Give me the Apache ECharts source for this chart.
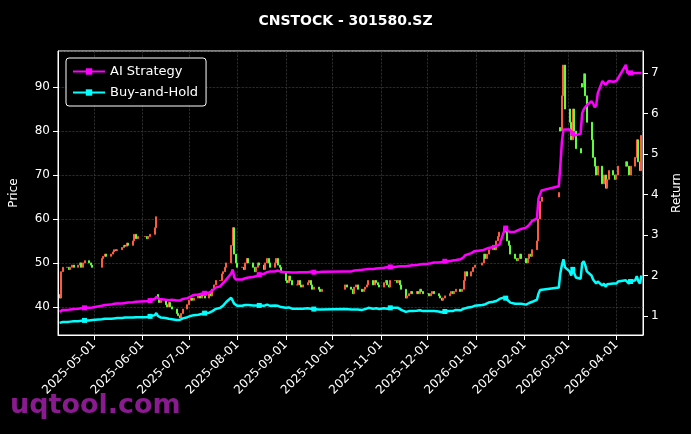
<!DOCTYPE html>
<html>
<head>
<meta charset="utf-8">
<script src="https://cdn.jsdelivr.net/npm/echarts@6/dist/echarts.min.js"></script>
<style>html,body{margin:0;padding:0;background:#000;}#chart{width:691px;height:434px;}</style>
</head>
<body>
<div id="chart"></div>
<script>
// one row per trading week (Mon..Fri), starting Monday 2025-04-07; null = no data
var firstMonday = '2025-04-07';
var closeWeeks = [
  [null,null,42,48,49],[49,48.5,49,49.5,49],[49.5,50,49,50,50.5],[50,49.5,49,null,null],
  [null,51,51.5,52,51.5],[52,52.5,53,52.8,53],[53.5,54,53.8,54.5,54],[55,56.5,55.5,56,null],
  [null,56,55.5,56,56.5],[58,60.5,42,41,41.5],[40.5,40,41,40,39.5],[38.5,38,37.5,38.5,39.5],
  [40.5,41.5,42,41.5,42],[42.5,42,43,42.5,42],[43,42.5,44,45,46],[46,47.5,48,49,50],
  [54,58,52,50,49],[49,48.5,50,51,50],[49,48,49,50,49.5],[48.5,50,51,50,49],
  [50,51,49.5,49,48],[46,45.5,47,46,45],[45,46,45,44.5,45],[45.5,46,45,44,44.5],
  [44,43.5,44,null,null],[null,null,null,null,null],[null,null,null,45,44.5],[44,43,44.5,45,44],
  [43.5,44,44.5,45,46],[45,46,45.5,45,44.5],[45.5,46,45,44.5,46],[46,45.5,46,45,44],
  [42,42.5,43,43.5,43],[43.5,43,44,43.5,43],[43,42.5,43,43.5,43],[42.5,42,41.5,42,42.5],
  [43,43.5,43,43.5,44],[43.5,44,46,48,47],[48,49,49.5,null,null],[50,52,51,52,53],
  [54,53,55,56,57],[58,57,55,54,52],[51,50.5,51,52,51],[50,51,52,51.5,53],
  [55,60,64,65,null],[null,null,null,null,null],[66,80,88,95,85],[82,78,85,80,76],
  [75,90,93,88,82],[78,74,72,70,72],[68,70,67,69,71],[70,69,70,72,null],
  [null,73,72,70,72],[74,78,73,71,79]
];
var aiWeeks = [
  [null,null,1.1,1.13,1.15],[1.15,1.16,1.16,1.17,1.17],[1.18,1.18,1.19,1.2,1.2],[1.2,1.2,1.21,null,null],
  [null,1.25,1.27,1.27,1.28],[1.28,1.29,1.3,1.3,1.31],[1.31,1.32,1.32,1.33,1.33],[1.34,1.35,1.35,1.36,null],
  [null,1.36,1.37,1.37,1.38],[1.42,1.47,1.44,1.42,1.41],[1.4,1.4,1.39,1.4,1.4],[1.38,1.37,1.38,1.4,1.42],
  [1.44,1.46,1.48,1.5,1.52],[1.53,1.54,1.55,1.55,1.56],[1.58,1.6,1.63,1.66,1.7],[1.73,1.78,1.82,1.86,1.9],
  [2.05,2.15,1.95,1.9,1.9],[1.9,1.91,1.93,1.94,1.95],[1.96,1.97,1.98,2.0,2.02],[2.04,2.06,2.08,2.09,2.1],
  [2.1,2.12,2.12,2.1,2.09],[2.08,2.07,2.08,2.08,2.07],[2.07,2.08,2.08,2.07,2.08],[2.08,2.09,2.09,2.08,2.08],
  [2.08,2.08,2.09,null,null],[null,null,null,null,null],[null,null,null,2.1,2.1],[2.1,2.11,2.12,2.12,2.13],
  [2.14,2.14,2.15,2.15,2.16],[2.16,2.17,2.17,2.18,2.18],[2.19,2.19,2.2,2.2,2.21],[2.21,2.22,2.22,2.23,2.23],
  [2.23,2.24,2.24,2.25,2.25],[2.26,2.26,2.27,2.28,2.28],[2.29,2.3,2.3,2.31,2.32],[2.32,2.33,2.33,2.34,2.35],
  [2.35,2.36,2.37,2.37,2.38],[2.4,2.42,2.45,2.5,2.52],[2.55,2.58,2.6,null,null],[2.62,2.64,2.65,2.66,2.68],
  [2.7,2.72,2.73,2.75,2.76],[3.1,3.17,3.1,3.07,3.07],[3.08,3.1,3.12,3.14,3.15],[3.18,3.2,3.25,3.3,3.35],
  [3.4,3.9,4.0,4.1,null],[null,null,null,null,null],[4.2,4.7,5.3,5.6,5.62],[5.6,5.55,5.5,5.45,5.45],
  [5.5,6.0,6.1,6.15,6.2],[6.3,6.25,6.15,6.2,6.5],[6.8,6.75,6.7,6.72,6.8],[6.78,6.78,6.8,6.8,null],
  [null,7.2,7.0,7.0,7.0],[7.0,7.0,7.0,7.0,7.0]
];
var bhWeeks = [
  [null,null,0.83,0.84,0.85],[0.85,0.86,0.86,0.86,0.87],[0.87,0.88,0.88,0.88,0.89],[0.89,0.9,0.9,null,null],
  [null,0.92,0.93,0.93,0.93],[0.93,0.94,0.94,0.94,0.95],[0.95,0.95,0.96,0.96,0.96],[0.96,0.97,0.97,0.97,null],
  [null,0.97,0.98,0.98,0.99],[1.02,1.07,1.0,0.97,0.96],[0.95,0.94,0.93,0.93,0.92],[0.9,0.89,0.9,0.92,0.94],
  [0.97,0.99,1.0,1.01,1.02],[1.03,1.04,1.05,1.06,1.07],[1.08,1.1,1.12,1.14,1.17],[1.2,1.23,1.26,1.3,1.35],
  [1.45,1.47,1.3,1.26,1.25],[1.25,1.25,1.27,1.28,1.27],[1.26,1.25,1.26,1.27,1.26],[1.25,1.27,1.28,1.27,1.25],
  [1.26,1.27,1.25,1.24,1.22],[1.2,1.19,1.21,1.2,1.18],[1.18,1.2,1.18,1.17,1.18],[1.19,1.2,1.18,1.16,1.17],
  [1.16,1.15,1.16,null,null],[null,null,null,null,null],[null,null,null,1.17,1.16],[1.16,1.14,1.16,1.17,1.16],
  [1.15,1.16,1.17,1.18,1.2],[1.18,1.2,1.19,1.18,1.17],[1.19,1.2,1.18,1.17,1.2],[1.2,1.19,1.2,1.18,1.15],
  [1.1,1.11,1.12,1.13,1.12],[1.13,1.12,1.14,1.13,1.12],[1.12,1.11,1.12,1.13,1.12],[1.11,1.1,1.09,1.1,1.11],
  [1.12,1.13,1.12,1.13,1.15],[1.14,1.15,1.18,1.22,1.2],[1.22,1.24,1.25,null,null],[1.27,1.3,1.29,1.3,1.33],
  [1.35,1.33,1.37,1.4,1.42],[1.46,1.44,1.4,1.37,1.33],[1.3,1.29,1.3,1.32,1.3],[1.28,1.3,1.32,1.31,1.35],
  [1.4,1.55,1.64,1.66,null],[null,null,null,null,null],[1.7,2.05,2.25,2.4,2.2],[2.1,2.0,2.15,2.05,1.95],
  [1.92,2.3,2.35,2.25,2.1],[2.0,1.9,1.85,1.8,1.85],[1.75,1.8,1.72,1.78,1.82],[1.8,1.78,1.8,1.85,null],
  [null,1.88,1.86,1.8,1.85],[1.88,1.98,1.86,1.8,2.0]
];

var DAY = 86400000;
var t0 = new Date(firstMonday + 'T00:00:00').getTime();
var candles = [], aiLine = [], bhLine = [];
var prev = null;
for (var w = 0; w < closeWeeks.length; w++) {
    for (var d = 0; d < 5; d++) {
        var t = t0 + (w * 7 + d) * DAY;
        var c = closeWeeks[w][d];
        if (c !== null) {
            // price gaps (like the June drop) open near the new level
            var o = (prev === null || Math.abs(prev - c) > 10) ? c + 0.8 : prev;
            candles.push([t, o, c, Math.min(o, c), Math.max(o, c)]);
            prev = c;
        }
        if (aiWeeks[w][d] !== null) aiLine.push([t, aiWeeks[w][d]]);
        if (bhWeeks[w][d] !== null) bhLine.push([t, bhWeeks[w][d]]);
    }
}

function markEvery(v, p) { return p.dataIndex % 25 === 12 ? 5 : 0; }

var myChart = echarts.init(document.getElementById('chart'));
var option = {
    backgroundColor: '#000',
    animation: false,
    title: {
        text: 'CNSTOCK - 301580.SZ', left: 'center', top: 9,
        textStyle: {color: '#fff', fontSize: 14, fontWeight: 'bold', fontFamily: 'DejaVu Sans'}
    },
    graphic: [{
        type: 'text', left: 10, top: 392,
        style: {text: 'uqtool.com', fill: '#8a1a8f', font: 'bold 27px "DejaVu Sans"'}
    }],
    legend: {
        orient: 'vertical', left: 66, top: 58, itemWidth: 32, itemHeight: 8, itemGap: 8,
        padding: [7, 8, 7, 6],
        borderColor: '#fff', borderWidth: 1, borderRadius: 3, backgroundColor: '#000',
        textStyle: {color: '#fff', fontSize: 13, fontFamily: 'DejaVu Sans'},
        data: ['AI Strategy', 'Buy-and-Hold']
    },
    grid: {left: 58, right: 48, top: 51, bottom: 99, show: true, borderColor: '#fff', borderWidth: 1},
    xAxis: {
        type: 'time',
        min: new Date('2025-04-08T00:00:00').getTime(),
        max: new Date('2026-04-18T00:00:00').getTime(),
        splitNumber: 12,
        axisLine: {lineStyle: {color: '#fff'}},
        axisTick: {lineStyle: {color: '#fff'}},
        axisLabel: {
            color: '#fff', rotate: 45, fontSize: 12, fontFamily: 'DejaVu Sans',
            formatter: function (v) { return echarts.time.format(v, '{yyyy}-{MM}-{dd}', false); }
        },
        splitLine: {show: true, lineStyle: {color: '#444', type: 'dashed', width: 0.6}}
    },
    yAxis: [{
        type: 'value', min: 33.6, max: 98.2, position: 'left',
        name: 'Price', nameLocation: 'middle', nameGap: 38,
        nameTextStyle: {color: '#fff', fontSize: 12, fontFamily: 'DejaVu Sans'},
        axisLine: {show: true, lineStyle: {color: '#fff'}},
        axisTick: {show: true, lineStyle: {color: '#fff'}},
        axisLabel: {color: '#fff', fontSize: 12, showMinLabel: false, showMaxLabel: false, fontFamily: 'DejaVu Sans'},
        splitLine: {show: true, lineStyle: {color: '#444', type: 'dashed', width: 0.6}}
    }, {
        type: 'value', min: 0.53, max: 7.54, position: 'right',
        name: 'Return', nameLocation: 'middle', nameGap: 28,
        nameTextStyle: {color: '#fff', fontSize: 12, fontFamily: 'DejaVu Sans'},
        axisLine: {show: true, lineStyle: {color: '#fff'}},
        axisTick: {show: true, lineStyle: {color: '#fff'}},
        axisLabel: {color: '#fff', fontSize: 12, showMinLabel: false, showMaxLabel: false, fontFamily: 'DejaVu Sans'},
        splitLine: {show: false}
    }],
    series: [{
        name: 'Price', type: 'candlestick', yAxisIndex: 0, barWidth: 1.5,
        itemStyle: {color: '#ff5a3c', color0: '#5cff3a', borderColor: '#ff5a3c', borderColor0: '#5cff3a', borderWidth: 1},
        data: candles
    }, {
        name: 'AI Strategy', type: 'line', yAxisIndex: 1, symbol: 'rect', symbolSize: markEvery,
        showAllSymbol: true, lineStyle: {color: '#ff00ff', width: 2.5}, itemStyle: {color: '#ff00ff'},
        data: aiLine
    }, {
        name: 'Buy-and-Hold', type: 'line', yAxisIndex: 1, symbol: 'rect', symbolSize: markEvery,
        showAllSymbol: true, lineStyle: {color: '#00ffff', width: 2.5}, itemStyle: {color: '#00ffff'},
        data: bhLine
    }]
};
myChart.setOption(option);
window.onresize = myChart.resize;
</script>
</body>
</html>
